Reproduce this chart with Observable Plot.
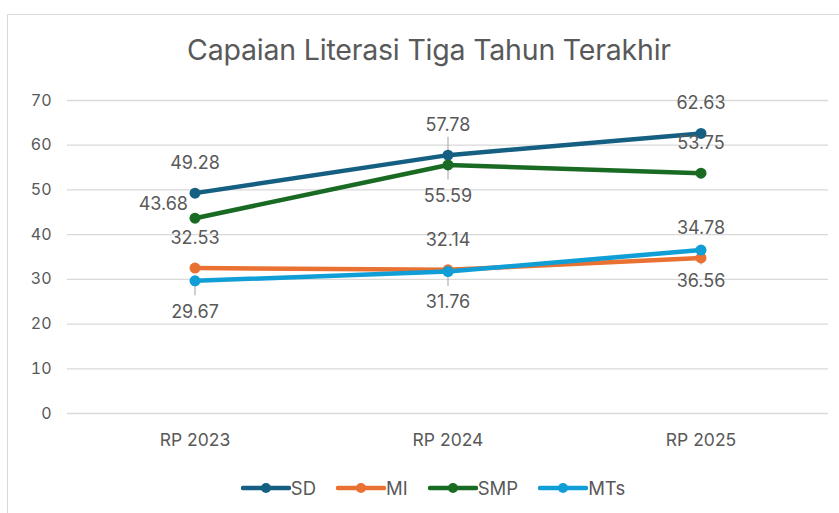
<!DOCTYPE html>
<html>
<head>
<meta charset="utf-8">
<script src="https://cdn.jsdelivr.net/npm/d3@7"></script>
<script src="https://cdn.jsdelivr.net/npm/@observablehq/plot@0.6"></script>
<style>
  html, body { margin: 0; padding: 0; background: #fff; }
  body { width: 839px; height: 513px; position: relative; overflow: hidden; font-family: Inter, "Open Sans", sans-serif; }
  #frame { position: absolute; left: 7px; top: 14px; right: -2px; bottom: -2px; border-top: 1.5px solid #d9d9d9; border-left: 1.5px solid #d9d9d9; }
  #title { position: absolute; left: 0; top: 0; width: 858px; height: 80px; text-align: center; line-height: 100px; font-size: 28.5px; letter-spacing: -0.2px; color: #595959; }
  #chart { position: absolute; left: 0; top: 80px; }
  #legend { position: absolute; left: 0; top: 470px; width: 866px; height: 36px; display: flex; justify-content: center; align-items: center; gap: 20px; font-size: 18.5px; color: #595959; }
  .item { display: flex; align-items: center; }
</style>
</head>
<body>
<div id="frame"></div>
<div id="title">Capaian Literasi Tiga Tahun Terakhir</div>
<div id="chart"></div>
<div id="legend"></div>
<script>
const categories = ["RP 2023", "RP 2024", "RP 2025"];
const SD  = [49.28, 57.78, 62.63];
const MI  = [32.53, 32.14, 34.78];
const SMP = [43.68, 55.59, 53.75];
const MTs = [29.67, 31.76, 36.56];
const seriesNames = ["SD", "MI", "SMP", "MTs"];
const seriesValues = [SD, MI, SMP, MTs];
const colors = ["#156082", "#E97132", "#196B24", "#0F9ED5"];
const yTicks = [0, 10, 20, 30, 40, 50, 60, 70];
// where each data label sits relative to its point
const labelPlacement = {
  SD:  ["top", "top", "top"],
  MI:  ["top", "top", "top"],
  SMP: ["left", "bottom", "top"],
  MTs: ["bottom", "bottom", "bottom"]
};
// which labels have a leader line drawn towards them
const leaderLines = {
  SD:  [false, true, false],
  MI:  [false, false, false],
  SMP: [false, true, false],
  MTs: [true, true, true]
};

const data = [];
seriesNames.forEach((s, i) => {
  seriesValues[i].forEach((v, j) => {
    data.push({series: s, category: categories[j], value: v, place: labelPlacement[s][j], leader: leaderLines[s][j]});
  });
});

const labelStyle = {x: "category", y: "value", text: d => d.value.toFixed(2), fill: "#595959", fontSize: 18};
const leaders = data.filter(d => d.leader);

const plot = Plot.plot({
  width: 839,
  height: 390,
  marginLeft: 67,
  marginRight: 11,
  marginTop: 20,
  marginBottom: 57,
  style: {fontFamily: "Inter, 'Open Sans', sans-serif", background: "transparent"},
  x: {type: "band", domain: categories, padding: 0, label: null},
  y: {domain: [0, 70], label: null},
  color: {domain: seriesNames, range: colors},
  marks: [
    Plot.gridY(yTicks, {stroke: "#d9d9d9", strokeOpacity: 1, strokeWidth: 1.3}),
    Plot.axisY(yTicks, {tickSize: 0, tickPadding: 16, fontSize: 16, fill: "#595959", label: null}),
    Plot.axisX({tickSize: 0, tickPadding: 20, fontSize: 17.5, fill: "#595959", label: null}),
    Plot.ruleX(leaders.filter(d => d.place === "top"), {x: "category", y1: "value", y2: "value", insetTop: -18, stroke: "#b0b0b0", strokeWidth: 1.2}),
    Plot.ruleX(leaders.filter(d => d.place === "bottom"), {x: "category", y1: "value", y2: "value", insetBottom: -15, stroke: "#b0b0b0", strokeWidth: 1.2}),
    Plot.line(data, {x: "category", y: "value", z: "series", stroke: "series", strokeWidth: 4.5, strokeLinecap: "round"}),
    Plot.dot(data, {x: "category", y: "value", fill: "series", r: 5.5}),
    Plot.text(data.filter(d => d.place === "top"), {...labelStyle, dy: -30}),
    Plot.text(data.filter(d => d.place === "bottom"), {...labelStyle, dy: 31}),
    Plot.text(data.filter(d => d.place === "left"), {...labelStyle, dy: -14, dx: -7, textAnchor: "end"})
  ]
});
document.getElementById("chart").appendChild(plot);

const legend = document.getElementById("legend");
seriesNames.forEach((s, i) => {
  const item = document.createElement("div");
  item.className = "item";
  item.innerHTML = `<svg width="50" height="14"><line x1="2" y1="7" x2="48" y2="7" stroke="${colors[i]}" stroke-width="4.5" stroke-linecap="round"/><circle cx="25" cy="7" r="5" fill="${colors[i]}"/></svg><span>${s}</span>`;
  legend.appendChild(item);
});
</script>
</body>
</html>
